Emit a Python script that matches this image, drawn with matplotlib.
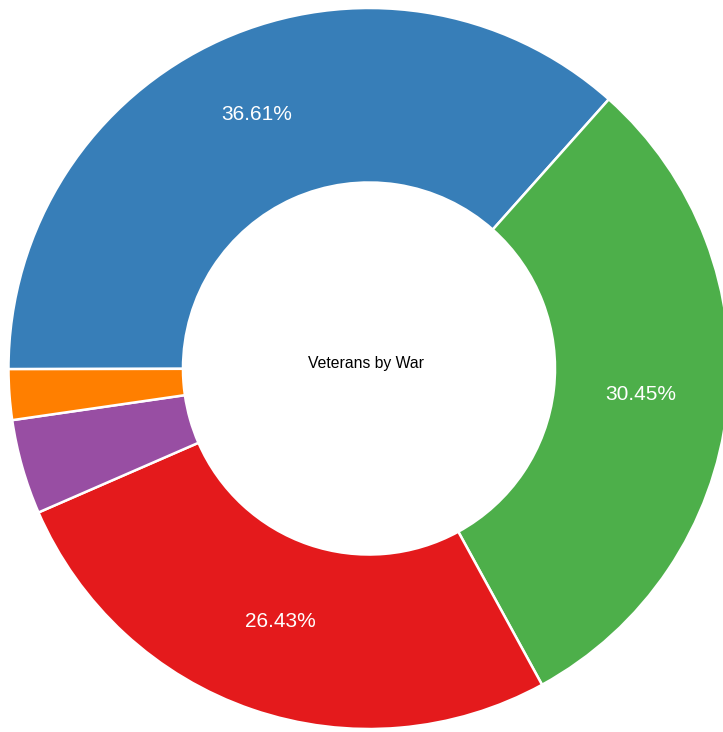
import matplotlib.pyplot as plt

# Veterans split by war (percent of total)
wars = ["War A", "War B", "War C", "War D", "War E"]
shares = [36.61, 30.45, 26.43, 4.25, 2.26]
colors = ["#377eb8", "#4daf4a", "#e41a1c", "#984ea3", "#ff7f00"]

plt.rcParams['font.family'] = ['Liberation Sans', 'DejaVu Sans']

fig = plt.figure(figsize=(7.23, 7.32), dpi=100)
ax = fig.add_axes([0, 0, 1, 1])


def pct_label(p):
    return f"{p:.2f}%" if p > 5 else ""


wedges, texts, autotexts = ax.pie(
    shares,
    colors=colors,
    startangle=180.1,
    counterclock=False,
    radius=1.0,
    autopct=pct_label,
    pctdistance=0.758,
    wedgeprops=dict(width=0.484, edgecolor="white", linewidth=1.8),
    textprops=dict(color="white", fontsize=15),
)

# nudge the percentage labels up a little
for t in autotexts:
    x, y = t.get_position()
    t.set_position((x, y + 0.014))

ax.text(-0.007, 0.015, "Veterans by War", ha="center", va="center",
        fontsize=11.3, color="black")

# pie is centred at (0, 0); place it inside the canvas
ax.set_xlim(-1.02358, 0.98197)
ax.set_ylim(-1.00832, 1.02219)
ax.set_aspect("auto")
ax.axis("off")

fig.savefig("out.png", dpi=100)
